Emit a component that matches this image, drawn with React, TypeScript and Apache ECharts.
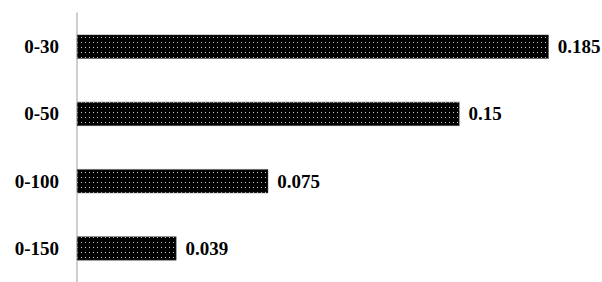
import React, { useEffect, useRef } from "react";
import * as echarts from "echarts";

const categories = ["0-30", "0-50", "0-100", "0-150"];
const values = [0.185, 0.15, 0.075, 0.039];
const labels = ["0.185", "0.15", "0.075", "0.039"];

function makePattern() {
  const c = document.createElement("canvas");
  c.width = 4;
  c.height = 5;
  const ctx = c.getContext("2d")!;
  ctx.fillStyle = "#000";
  ctx.fillRect(0, 0, 4, 5);
  ctx.fillStyle = "#c8c8c8";
  ctx.fillRect(1, 2, 1, 1);
  return c;
}

export default function App() {
  const ref = useRef<HTMLDivElement>(null);
  useEffect(() => {
    const chart = echarts.init(ref.current!, undefined, { renderer: "svg" });
    const pattern = makePattern();
    chart.setOption({
      animation: false,
      grid: { left: 77, right: 15, top: 13, bottom: -4 },
      xAxis: {
        type: "value",
        min: 0,
        max: 0.2,
        show: false,
      },
      yAxis: {
        type: "category",
        data: categories,
        inverse: true,
        axisLine: { show: true, lineStyle: { color: "#bfbfbf", width: 1.5 } },
        axisTick: { show: false },
        axisLabel: {
          margin: 18,
          color: "#000",
          fontFamily: "Liberation Serif",
          fontWeight: "bold",
          fontSize: 19,
        },
      },
      series: [
        {
          type: "bar",
          data: values,
          barWidth: 24,
          itemStyle: {
            color: { image: pattern, repeat: "repeat" },
            borderColor: "#555",
            borderWidth: 0.5,
          },
          label: {
            show: true,
            position: "right",
            distance: 9,
            color: "#000",
            fontFamily: "Liberation Serif",
            fontWeight: "bold",
            fontSize: 19,
            formatter: (p: any) => labels[p.dataIndex],
          },
        },
      ],
    });
    return () => chart.dispose();
  }, []);
  return (
    <div
      ref={ref}
      style={{ position: "fixed", left: 0, top: 0, width: 602, height: 282, background: "#fff" }}
    />
  );
}
